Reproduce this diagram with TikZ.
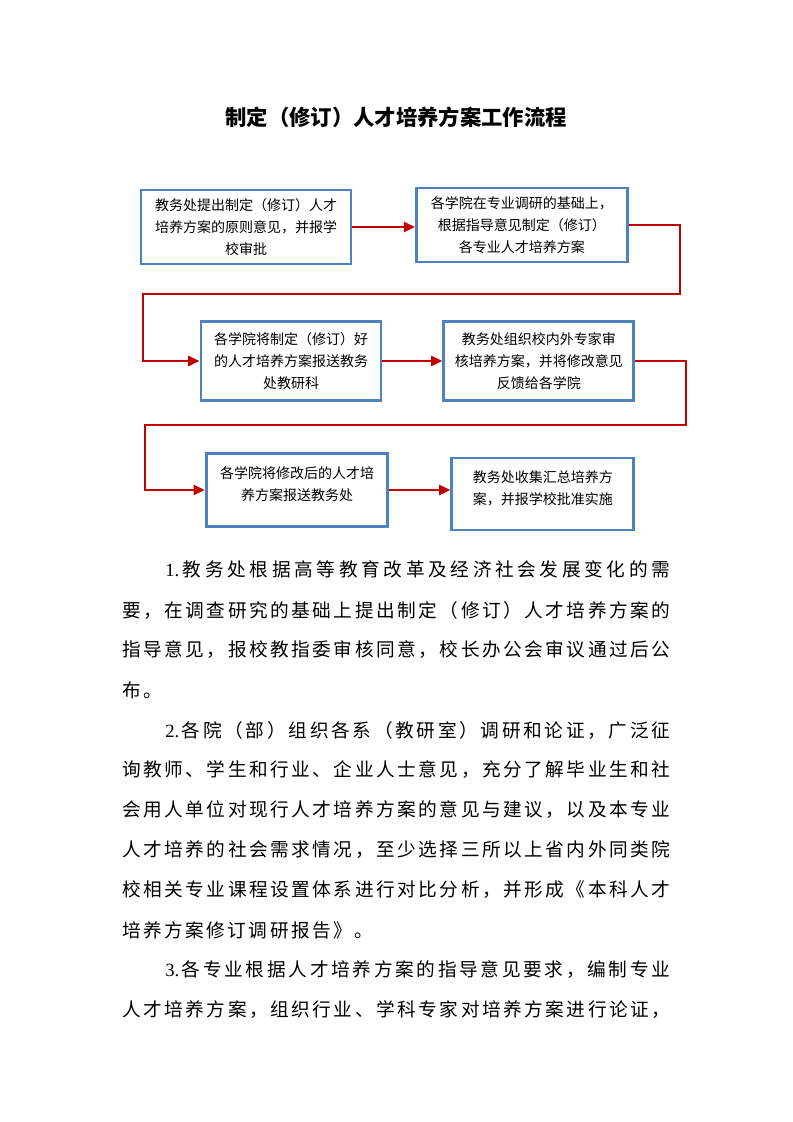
\documentclass[tikz,border=0pt]{standalone}
\usepackage{fontspec}
\setmainfont{Liberation Serif}
\newfontfamily\cjk{Noto Sans CJK SC}
\usepackage{xcolor}
\usetikzlibrary{arrows.meta,positioning,calc}
\definecolor{boxblue}{RGB}{79,129,189}
\definecolor{flowred}{RGB}{192,0,0}
\newdimen\pxu \pxu=0.75pt
% spread one line of text over a given width (in px)
\makeatletter
\newcommand\spreadline[2]{\hbox to #1\pxu{\let\sl@gap\relax\@tfor\sl@ch:=#2\do{\sl@gap\sl@ch\let\sl@gap\hfil}}}
\makeatother
\newcommand\lowpad{\rule[-9pt]{0pt}{0pt}}
\tikzset{
  >={Triangle[length=8.5pt,width=7.5pt]},
  stage/.style={draw=boxblue, line width=2.2pt, fill=white, align=center, inner sep=2pt, font=\cjk\fontsize{10.5}{16.5}\selectfont},
  link/.style={->, draw=flowred, line width=1.8pt},
  para/.style={anchor=west, inner sep=0pt, font=\cjk\fontsize{14}{16}\selectfont},
}
\begin{document}
\begin{tikzpicture}[x=0.75pt, y=-0.75pt]
  \useasboundingbox (0,0) rectangle (793,1122);
  \node[font=\cjk\bfseries\fontsize{16}{20}\selectfont] (title) at (396,117) {制定（修订）人才培养方案工作流程};

  % flow chart
  \node[stage, minimum width=157.5pt, minimum height=55.5pt] (b1) at (246,227) {教务处提出制定（修订）人才\\培养方案的原则意见，并报学\\校审批};
  \node[stage, minimum width=158pt, minimum height=55.5pt, right=47pt of b1, yshift=1.5pt] (b2) {各学院在专业调研的基础上，\\根据指导意见制定（修订）\\各专业人才培养方案};
  \node[stage, minimum width=135pt, minimum height=59pt] (b3) at (291,361) {各学院将制定（修订）好\\的人才培养方案报送教务\\处教研科};
  \node[stage, minimum width=142.5pt, minimum height=59pt, right=45pt of b3] (b4) {教务处组织校内外专家审\\核培养方案，并将修改意见\\反馈给各学院};
  \node[stage, minimum width=136pt, minimum height=55pt] (b5) at (297,490) {各学院将修改后的人才培\\养方案报送教务处\lowpad};
  \node[stage, minimum width=136.5pt, minimum height=54pt, right=46pt of b5, yshift=-3pt] (b6) {教务处收集汇总培养方\\案，并报学校批准实施\lowpad};

  \coordinate (turn1) at (680,294);
  \coordinate (turn2) at (143,294);
  \coordinate (turn3) at (686,425);
  \coordinate (turn4) at (145,425);

  \draw[link] (b1.east) -- (b1.east -| b2.west);
  \draw[link] (b2.east) -| (turn1) -- (turn2) |- (b3);
  \draw[link] (b3) -- (b4);
  \draw[link] (b4.east) -| (turn3) -- (turn4) |- (b5);
  \draw[link] (b5.east) -- (b5.east -| b6.west);

  % text below the chart
  \node[para] (p1) at (165,569) {\spreadline{505}{{\textrm{1.}}教务处根据高等教育改革及经济社会发展变化的需}};
  \node[para] (p2) at (122,610) {\spreadline{548}{要，在调查研究的基础上提出制定（修订）人才培养方案的}};
  \node[para] (p3) at (122,650) {\spreadline{548}{指导意见，报校教指委审核同意，校长办公会审议通过后公}};
  \node[para] (p4) at (122,690) {\spreadline{40}{布。}};
  \node[para] (p5) at (165,730) {\spreadline{505}{{\textrm{2.}}各院（部）组织各系（教研室）调研和论证，广泛征}};
  \node[para] (p6) at (122,770) {\spreadline{548}{询教师、学生和行业、企业人士意见，充分了解毕业生和社}};
  \node[para] (p7) at (122,810) {\spreadline{548}{会用人单位对现行人才培养方案的意见与建议，以及本专业}};
  \node[para] (p8) at (122,850) {\spreadline{548}{人才培养的社会需求情况，至少选择三所以上省内外同类院}};
  \node[para] (p9) at (122,890) {\spreadline{548}{校相关专业课程设置体系进行对比分析，并形成《本科人才}};
  \node[para] (p10) at (122,930) {\spreadline{251}{培养方案修订调研报告》。}};
  \node[para] (p11) at (165,970) {\spreadline{505}{{\textrm{3.}}各专业根据人才培养方案的指导意见要求，编制专业}};
  \node[para] (p12) at (122,1010) {\spreadline{548}{人才培养方案，组织行业、学科专家对培养方案进行论证，}};
\end{tikzpicture}
\end{document}
